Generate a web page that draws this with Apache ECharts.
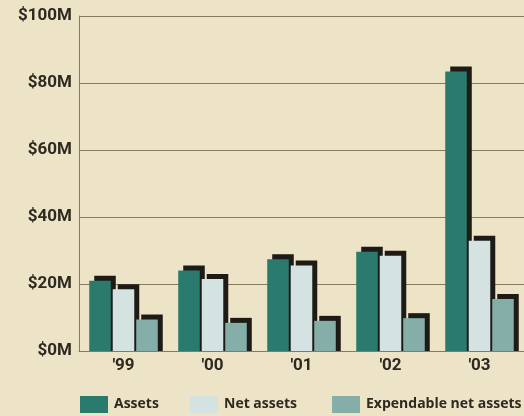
<!DOCTYPE html>
<html>
<head>
<meta charset="utf-8">
<script src="https://cdn.jsdelivr.net/npm/echarts@6/dist/echarts.min.js"></script>
<style>
  html, body { margin: 0; padding: 0; background: #ede4c8; }
  #chart { width: 524px; height: 416px; }
</style>
</head>
<body>
<div id="chart"></div>
<script>
// Fiscal years shown along the bottom
const years = ["'99", "'00", "'01", "'02", "'03"];

// Values in millions of dollars
const assets = [21.0, 24.0, 27.4, 29.6, 83.4];
const netAssets = [18.4, 21.5, 25.5, 28.4, 32.9];
const expendableNetAssets = [9.4, 8.4, 9.0, 9.8, 15.5];

// Y axis ticks (millions)
const yTicks = [0, 20, 40, 60, 80, 100];

const seriesNames = ['Assets', 'Net assets', 'Expendable net assets'];
const seriesColors = ['#2a7a6d', '#d4e3e1', '#86aea9'];
const shadowColor = '#1e1b17';
const textColor = '#2e2921';
const gridColor = '#857c5d';
const font = '"Open Sans", "Noto Sans", sans-serif';
const axisFont = 'Roboto, "Open Sans", sans-serif';

const chart = echarts.init(document.getElementById('chart'), null, { renderer: 'canvas' });

// Each bar is drawn with a dark drop block offset up and to the right
function makeRenderer(slot) {
  return function (params, api) {
    const idx = api.value(0);
    const val = api.value(1);
    const base = api.coord([idx, 0]);
    const top = api.coord([idx, val]);
    const band = api.size([1, 0])[0];
    const step = band * 0.264;
    const w = band * 0.242;
    const cx = base[0] + (slot - 1) * step;
    const x = cx - w / 2;
    const dx = 5, dy = 5;
    return {
      type: 'group',
      children: [
        {
          type: 'rect',
          shape: { x: x + dx, y: top[1] - dy, width: w, height: base[1] - top[1] + dy },
          style: { fill: shadowColor }
        },
        {
          type: 'rect',
          shape: { x: x, y: top[1], width: w, height: base[1] - top[1] },
          style: { fill: seriesColors[slot] }
        }
      ]
    };
  };
}

const seriesData = [assets, netAssets, expendableNetAssets];

const legendLefts = [80, 190, 332];
const legends = seriesNames.map((name, i) => ({
  data: [{ name: name, icon: 'rect' }],
  left: legendLefts[i],
  top: 396,
  itemWidth: 28,
  itemHeight: 17,
  padding: 0,
  selectedMode: false,
  textStyle: { fontFamily: font, fontWeight: 'bold', fontSize: 14, color: textColor, padding: [0, 0, 0, 1] }
}));

chart.setOption({
  backgroundColor: '#ede4c8',
  animation: false,
  legend: legends,
  grid: { left: 79, right: 0, top: 16, bottom: 65, containLabel: false },
  xAxis: {
    type: 'category',
    data: years,
    axisLine: { show: true, lineStyle: { color: gridColor, width: 1 } },
    axisTick: { show: false },
    axisLabel: { margin: 6, color: textColor, fontFamily: axisFont, fontWeight: 'bold', fontSize: 17 }
  },
  yAxis: {
    type: 'value',
    min: yTicks[0],
    max: yTicks[yTicks.length - 1],
    interval: yTicks[1] - yTicks[0],
    axisLine: { show: true, lineStyle: { color: gridColor, width: 1 } },
    axisTick: { show: false },
    splitLine: { show: true, lineStyle: { color: gridColor, width: 1 } },
    axisLabel: {
      margin: 7,
      color: textColor,
      fontFamily: axisFont,
      fontWeight: 'bold',
      fontSize: 17,
      formatter: v => '$' + v + 'M'
    }
  },
  series: seriesNames.map((name, i) => ({
    name: name,
    type: 'custom',
    color: seriesColors[i],
    renderItem: makeRenderer(i),
    encode: { x: 0, y: 1 },
    data: seriesData[i].map((v, j) => [j, v])
  }))
});
</script>
</body>
</html>
